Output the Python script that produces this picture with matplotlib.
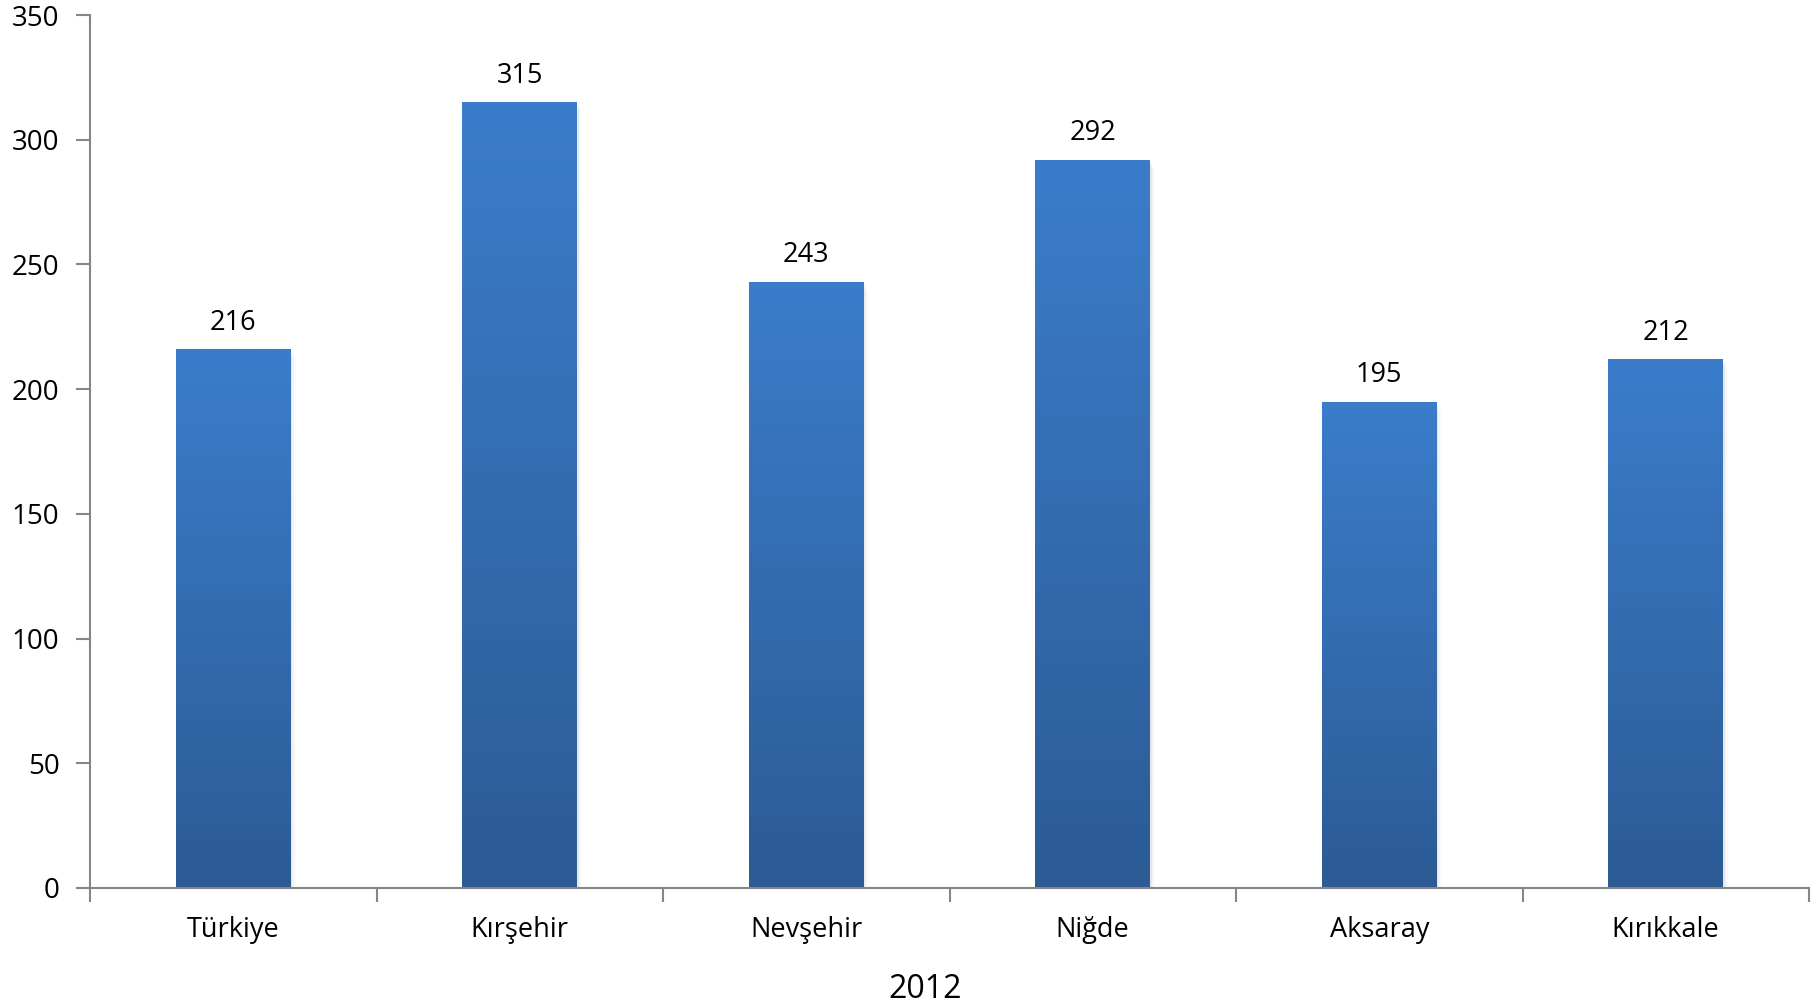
import numpy as np
import matplotlib
matplotlib.use("Agg")
import matplotlib.pyplot as plt
from matplotlib.colors import LinearSegmentedColormap

plt.rcParams['font.family'] = ['Open Sans', 'DejaVu Sans']

cities = ["Türkiye", "Kırşehir", "Nevşehir", "Niğde", "Aksaray", "Kırıkkale"]
values = [216, 315, 243, 292, 195, 212]
year_label = "2012"

fig = plt.figure(figsize=(18.14, 10.07), dpi=100)
ax = fig.add_axes([90/1814, 1 - 888/1007, (1809-90)/1814, (888-15)/1007])

x = np.arange(len(cities))
width = 0.40
grad = LinearSegmentedColormap.from_list("g", ["#2c5b95", "#3b7dcb"])

# soft shadow behind the bars
for xi, v in zip(x, values):
    for k, a in enumerate([0.10, 0.06, 0.03]):
        off = 0.006 * (k + 1)
        ax.bar(xi + off, v, width=width, bottom=-1.2 * (k + 1), color="#808080",
               alpha=a, zorder=1, linewidth=0)

bars = ax.bar(x, values, width=width, color="none", zorder=3, linewidth=0)
g = np.linspace(0, 1, 256).reshape(-1, 1)
for b in bars:
    x0 = b.get_x()
    im = ax.imshow(g, cmap=grad, origin="lower", aspect="auto",
                   extent=(x0, x0 + b.get_width(), 0, b.get_height()), zorder=2)
    im.set_clip_path(b)

for xi, v in zip(x, values):
    ax.text(xi, v + 5, str(v), ha="center", va="bottom", fontsize=19.5)

ax.set_xlim(-0.5, len(cities) - 0.5)
ax.set_ylim(0, 350)
ax.set_yticks(range(0, 351, 50))
ax.set_xticks(x)
ax.set_xticklabels(cities, fontsize=19.5)
ax.set_xticks(np.arange(-0.5, len(cities), 1.0), minor=True)
ax.tick_params(axis="x", which="major", length=0, pad=20)
ax.tick_params(axis="x", which="minor", length=10, color="#868686", width=1.5, direction="out")
ax.tick_params(axis="y", length=10, color="#868686", width=1.5, labelsize=20, pad=12)

for s in ["top", "right"]:
    ax.spines[s].set_visible(False)
for s in ["left", "bottom"]:
    ax.spines[s].set_color("#868686")
    ax.spines[s].set_linewidth(1.5)

fig.text(925/1814, 1 - 989/1007, year_label, ha="center", va="center", fontsize=23)

fig.savefig("out.png", dpi=100)
